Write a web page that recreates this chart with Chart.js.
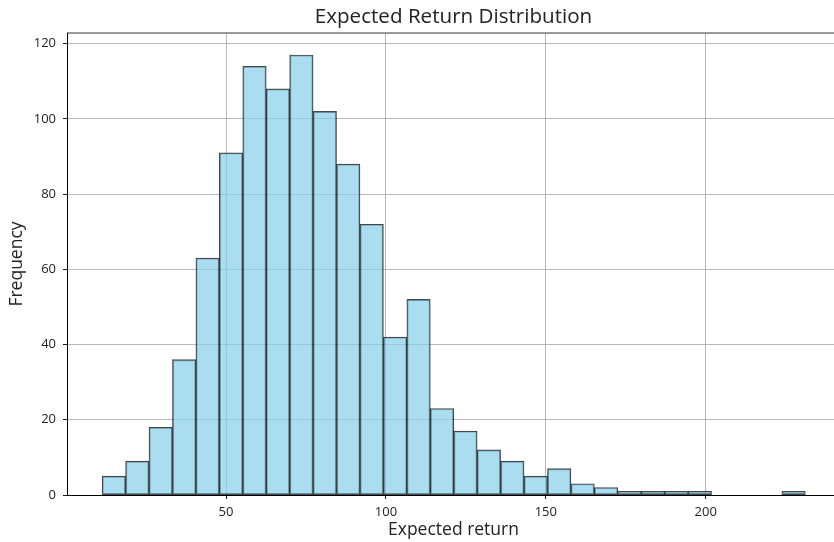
<!DOCTYPE html>
<html>
<head>
<meta charset="utf-8">
<script src="https://cdn.jsdelivr.net/npm/chart.js@4.4.0/dist/chart.umd.min.js"></script>
<style>
  body { margin: 0; overflow: hidden; background: #fff; }
  canvas { display: block; }
</style>
</head>
<body>
<canvas id="histChart" width="841" height="542"></canvas>
<script>
// bin centres (width ~7.33) and counts
var binCenters = [14.915, 22.245, 29.575, 36.905, 44.235, 51.565, 58.895, 66.225, 73.555, 80.885,
                  88.215, 95.545, 102.875, 110.205, 117.535, 124.865, 132.195, 139.525, 146.855, 154.185,
                  161.515, 168.845, 176.175, 183.505, 190.835, 198.165, 205.495, 212.825, 220.155, 227.485];
var frequencies = [5, 9, 18, 36, 63, 91, 114, 108, 117, 102,
                   88, 72, 42, 52, 23, 17, 12, 9, 5, 7,
                   3, 2, 1, 1, 1, 1, 0, 0, 0, 1];
var xTicks = [50, 100, 150, 200];
var yTicks = [0, 20, 40, 60, 80, 100, 120];

var chartTitle = 'Expected Return Distribution';
var xLabel = 'Expected return';
var yLabel = 'Frequency';

var fontFamily = '"Open Sans", sans-serif';
var textColor = '#222';

var points = binCenters.map(function(c, i) {
  return { x: c, y: frequencies[i] };
});

// title over the plot area + top spine
var framePlugin = {
  id: 'frame',
  afterDatasetsDraw: function(chart) {
    var a = chart.chartArea;
    var ctx = chart.ctx;
    ctx.save();
    ctx.strokeStyle = '#000';
    ctx.lineWidth = 0.8;
    ctx.beginPath();
    ctx.moveTo(a.left, a.top);
    ctx.lineTo(a.right, a.top);
    ctx.lineTo(a.right, a.bottom);
    ctx.stroke();
    ctx.restore();
  },
  afterDraw: function(chart) {
    var a = chart.chartArea;
    var ctx = chart.ctx;
    ctx.save();
    ctx.font = '20.6px ' + fontFamily;
    ctx.fillStyle = textColor;
    ctx.textAlign = 'center';
    ctx.textBaseline = 'middle';
    ctx.fillText(chartTitle, (a.left + a.right) / 2, 17.5);
    ctx.restore();
  }
};

var ctx = document.getElementById('histChart').getContext('2d');
new Chart(ctx, {
  type: 'bar',
  data: {
    datasets: [{
      data: points,
      backgroundColor: 'rgba(135, 206, 235, 0.7)',
      borderColor: 'rgba(0, 0, 0, 0.72)',
      borderWidth: 1.2,
      borderSkipped: false,
      barPercentage: 1,
      categoryPercentage: 1
    }]
  },
  options: {
    responsive: false,
    animation: false,
    layout: { padding: { top: 33, left: 0, right: 1, bottom: 0 } },
    plugins: {
      legend: { display: false },
      tooltip: { enabled: false },
      title: { display: false }
    },
    scales: {
      x: {
        type: 'linear',
        offset: false,
        min: 0.26,
        max: 242,
        afterBuildTicks: function(scale) {
          scale.ticks = xTicks.map(function(v) { return { value: v }; });
        },
        afterFit: function(scale) { scale.height = 47; },
        grid: { offset: false, color: '#b0b0b0', lineWidth: 0.9, tickColor: '#000', tickLength: 4 },
        border: { color: '#000', width: 1 },
        ticks: {
          color: textColor,
          padding: 5,
          maxRotation: 0,
          font: { family: fontFamily, size: 13 }
        },
        title: {
          display: true,
          text: xLabel,
          color: textColor,
          padding: { top: 0, bottom: 1 },
          font: { family: fontFamily, size: 17.5 }
        }
      },
      y: {
        min: 0,
        max: 122.85,
        afterBuildTicks: function(scale) {
          scale.ticks = yTicks.map(function(v) { return { value: v }; });
        },
        afterFit: function(scale) { scale.width = 67; },
        grid: { color: '#b0b0b0', lineWidth: 0.9, tickColor: '#000', tickLength: 4 },
        border: { color: '#000', width: 1 },
        ticks: {
          color: textColor,
          padding: 7,
          font: { family: fontFamily, size: 13 }
        },
        title: {
          display: true,
          text: yLabel,
          color: textColor,
          padding: { top: 7, bottom: 0 },
          font: { family: fontFamily, size: 17.5 }
        }
      }
    }
  },
  plugins: [framePlugin]
});
</script>
</body>
</html>
